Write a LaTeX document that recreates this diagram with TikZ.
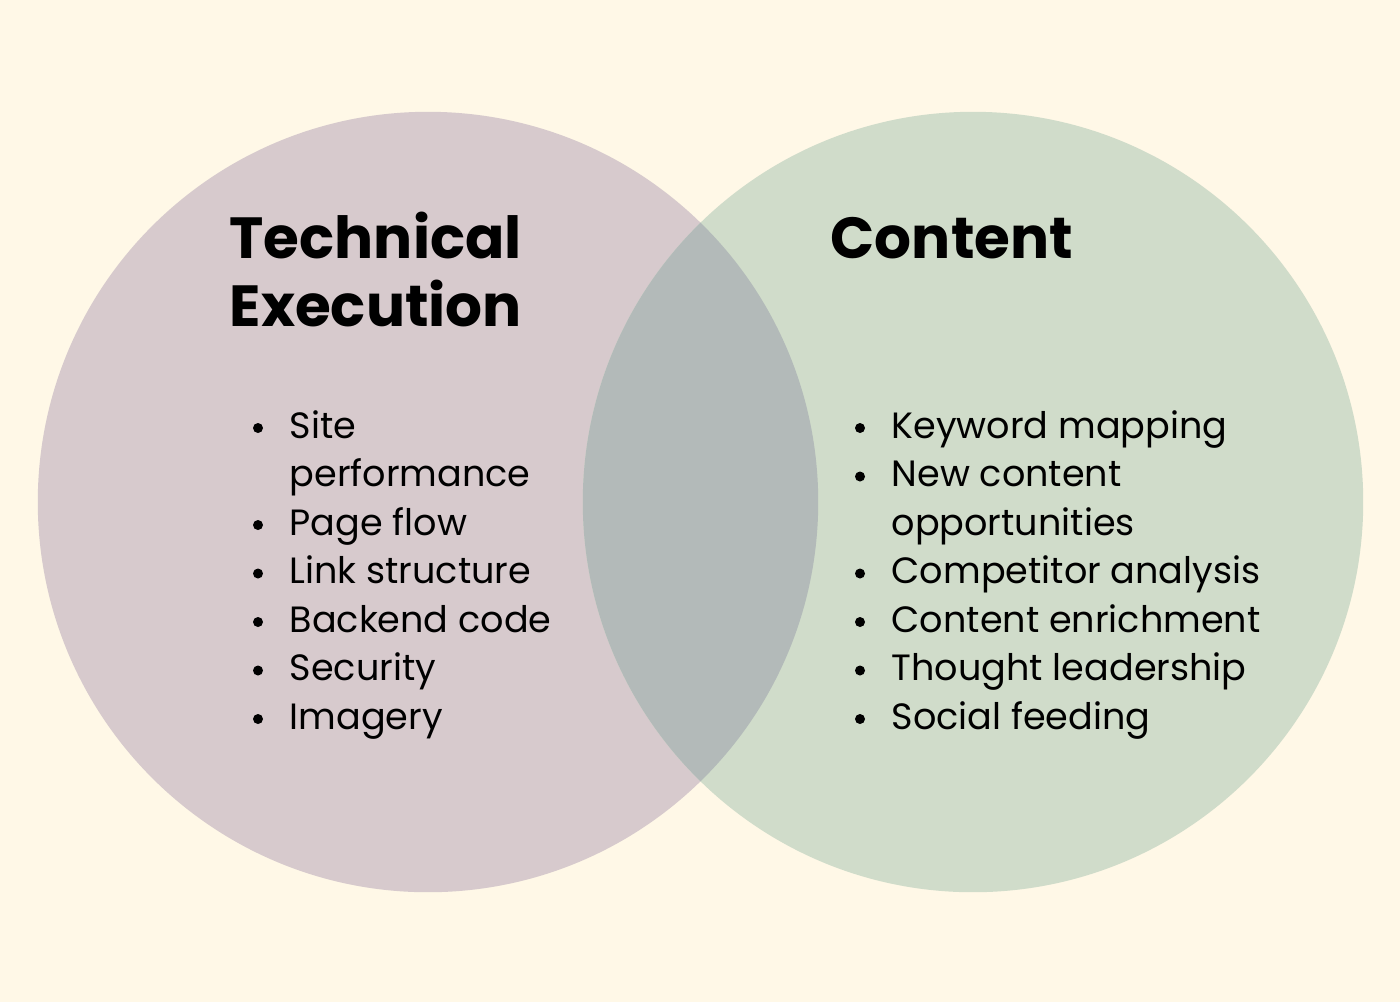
\documentclass[tikz,border=0pt]{standalone}
\usepackage{fontspec}
\setmainfont{Poppins}
\definecolor{bg}{HTML}{FFF8E7}
\definecolor{lc}{HTML}{D7CACD}
\definecolor{rc}{HTML}{D0DCCA}
\definecolor{oc}{HTML}{B3BAB9}
\begin{document}
\begin{tikzpicture}[x=0.01cm,y=-0.01cm,
  head/.style={anchor=base west,inner sep=0pt,font=\fontsize{16.5}{20}\selectfont\bfseries},
  item/.style={anchor=base west,inner sep=0pt,font=\fontsize{10.4}{13}\selectfont},
  dot/.style={circle,fill=black,inner sep=0pt,minimum size=0.1cm}]
\fill[bg] (0,0) rectangle (1400,1002);
\useasboundingbox (0,0) rectangle (1400,1002);
\fill[lc] (428,502) circle[radius=3.9cm];
\fill[rc] (973,502) circle[radius=3.9cm];
\begin{scope}
\clip (428,502) circle[radius=3.9cm];
\fill[oc] (973,502) circle[radius=3.9cm];
\end{scope}
\node[head] (h1) at (229,258) {Technical};
\node[head] (h2) at (229,326) {Execution};
\node[head] (h3) at (830,258) {Content};
\foreach \t/\b [count=\i from 0] in {Site/1,performance/0,Page flow/1,Link structure/1,Backend code/1,Security/1,Imagery/1}{
  \node[item] (l\i) at (289,438+48.5*\i) {\t};
  \ifnum\b=1 \node[dot] (ld\i) at (258,428+48.5*\i) {};\fi
}
\foreach \t/\b [count=\i from 0] in {Keyword mapping/1,New content/1,opportunities/0,Competitor analysis/1,Content enrichment/1,Thought leadership/1,Social feeding/1}{
  \node[item] (r\i) at (891,438+48.5*\i) {\t};
  \ifnum\b=1 \node[dot] (rd\i) at (860,428+48.5*\i) {};\fi
}
\end{tikzpicture}
\end{document}
